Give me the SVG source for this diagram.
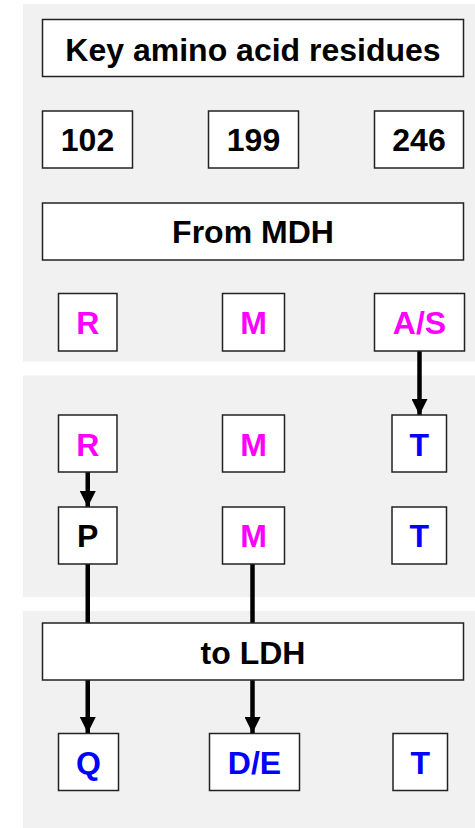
<svg xmlns="http://www.w3.org/2000/svg" width="475" height="828" viewBox="0 0 475 828">
<style>
.panel{fill:#f1f1f1}
.box rect{fill:#fff;stroke:#222;stroke-width:1.5}
text{font-family:"Liberation Sans",Arial,sans-serif;font-weight:bold;font-size:32px;text-anchor:middle}
.k{fill:#000}.m{fill:#ff00ff}.b{fill:#0000ff}
.c{stroke:#000;stroke-width:4.5;fill:none}
</style>
<defs>
<marker id="ah" markerUnits="userSpaceOnUse" markerWidth="16" markerHeight="16" viewBox="0 0 16 16" refX="16" refY="8" orient="auto">
<path d="M0,0 L16,8 L0,16 Z" fill="#000"/>
</marker>
</defs>
<rect class="panel" x="23" y="4" width="452" height="357.5"/>
<rect class="panel" x="23" y="375.5" width="452" height="221.5"/>
<rect class="panel" x="23" y="611" width="452" height="217"/>
<g id="connectors">
<line class="c" x1="419.5" y1="351" x2="419.5" y2="415" marker-end="url(#ah)"/>
<line class="c" x1="87.75" y1="472" x2="87.75" y2="507" marker-end="url(#ah)"/>
<line class="c" x1="87.75" y1="564" x2="87.75" y2="623"/>
<line class="c" x1="252.5" y1="564" x2="252.5" y2="623"/>
<line class="c" x1="87.75" y1="680" x2="87.75" y2="733" marker-end="url(#ah)"/>
<line class="c" x1="252.5" y1="680" x2="252.5" y2="733" marker-end="url(#ah)"/>
</g>
<g id="title" class="box"><rect x="42.5" y="19.5" width="421" height="57"/><text class="k" x="253" y="60.5">Key amino acid residues</text></g>
<g id="n102" class="box"><rect x="42.5" y="111" width="90" height="57"/><text class="k" x="87.5" y="151">102</text></g>
<g id="n199" class="box"><rect x="208.5" y="111" width="90" height="57"/><text class="k" x="253.5" y="151">199</text></g>
<g id="n246" class="box"><rect x="374.5" y="111" width="89" height="57"/><text class="k" x="419" y="151">246</text></g>
<g id="fromMDH" class="box"><rect x="42.5" y="203" width="421" height="57"/><text class="k" x="253" y="243">From MDH</text></g>
<g id="r1R" class="box"><rect x="58.5" y="293.5" width="58.5" height="57.5"/><text class="m" x="87.75" y="334">R</text></g>
<g id="r1M" class="box"><rect x="222.5" y="293.5" width="62" height="57.5"/><text class="m" x="253.5" y="334">M</text></g>
<g id="r1AS" class="box"><rect x="374.5" y="293.5" width="90" height="57.5"/><text class="m" x="419.5" y="334">A/S</text></g>
<g id="r2R" class="box"><rect x="58.5" y="415" width="58.5" height="57"/><text class="m" x="87.75" y="455.5">R</text></g>
<g id="r2M" class="box"><rect x="222.5" y="415" width="62" height="57"/><text class="m" x="253.5" y="455.5">M</text></g>
<g id="r2T" class="box"><rect x="392" y="415" width="54.5" height="57"/><text class="b" x="419.25" y="455.5">T</text></g>
<g id="r3P" class="box"><rect x="58.5" y="507" width="58.5" height="57"/><text class="k" x="87.75" y="547">P</text></g>
<g id="r3M" class="box"><rect x="222.5" y="507" width="62" height="57"/><text class="m" x="253.5" y="547">M</text></g>
<g id="r3T" class="box"><rect x="392" y="507" width="54.5" height="57"/><text class="b" x="419.25" y="547">T</text></g>
<g id="toLDH" class="box"><rect x="42.5" y="623" width="421" height="57"/><text class="k" x="253" y="663.5">to LDH</text></g>
<g id="r4Q" class="box"><rect x="58.5" y="733.5" width="60" height="57"/><text class="b" x="88.5" y="774">Q</text></g>
<g id="r4DE" class="box"><rect x="209.5" y="733.5" width="90" height="57"/><text class="b" x="254.5" y="774">D/E</text></g>
<g id="r4T" class="box"><rect x="393" y="733.5" width="54.5" height="57"/><text class="b" x="420.25" y="774">T</text></g>
</svg>
